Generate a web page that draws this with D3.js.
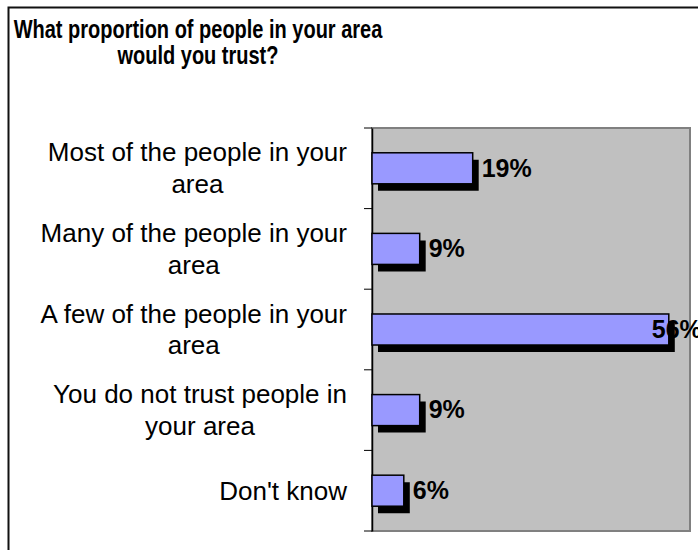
<!DOCTYPE html>
<html>
<head>
<meta charset="utf-8">
<script src="https://cdn.jsdelivr.net/npm/d3@7"></script>
<style>
  html, body { margin: 0; padding: 0; background: #fff; }
  svg { display: block; font-family: Arial, "Liberation Sans", sans-serif; }
</style>
</head>
<body>
<script>
// Survey answers, top to bottom, with the share of respondents (%)
const titleLines = ["What proportion of people in your area", "would you trust?"];
const categories = [
  ["Most of the people in your", "area"],
  ["Many of the people in your", "area"],
  ["A few of the people in your", "area"],
  ["You do not trust people in", "your area"],
  ["Don't know"]
];
const values = [19, 9, 56, 9, 6];
const xDomain = [0, 60];

const W = 698, H = 550;
const plot = { left: 372, top: 128, right: 690, bottom: 531 };
const shadowDx = 6, shadowDy = 7;

const svg = d3.select("body").append("svg")
  .attr("width", W).attr("height", H);

// outer frame (runs off the right and bottom edges)
svg.append("rect")
  .attr("x", 8.5).attr("y", 7.5)
  .attr("width", W + 20).attr("height", H + 20)
  .attr("fill", "#fff").attr("stroke", "#111").attr("stroke-width", 2);

// title, condensed horizontally
const titleG = svg.append("g").attr("transform", "scale(0.8,1)");
titleG.selectAll("text").data(titleLines).join("text")
  .attr("x", 198 / 0.8)
  .attr("y", (d, i) => 37.7 + i * 26.6)
  .attr("text-anchor", "middle")
  .attr("font-size", 25).attr("font-weight", "bold")
  .attr("fill", "#000")
  .text(d => d);

const ids = categories.map((c, i) => i);
const yBand = d3.scaleBand().domain(ids)
  .range([plot.top, plot.bottom]).paddingInner(0.615).paddingOuter(0.3075);
const yStep = d3.scaleBand().domain(ids).range([plot.top, plot.bottom]);
const x = d3.scaleLinear().domain(xDomain).range([plot.left, plot.right]);

// plot background
svg.append("rect")
  .attr("x", plot.left).attr("y", plot.top)
  .attr("width", plot.right - plot.left).attr("height", plot.bottom - plot.top)
  .attr("fill", "#c0c0c0").attr("stroke", "#808080").attr("stroke-width", 2);

// category axis: line plus ticks on the band boundaries
const axis = d3.axisLeft(yStep).tickSize(0).tickFormat("");
svg.append("g").attr("transform", `translate(${plot.left},0)`).call(axis)
  .call(g => g.select(".domain").attr("stroke", "#000").attr("stroke-width", 1.5));
const bounds = ids.map(i => yStep(i)).concat([plot.bottom]);
svg.append("g").selectAll("line").data(bounds).join("line")
  .attr("x1", plot.left - 8).attr("x2", plot.left)
  .attr("y1", d => d).attr("y2", d => d)
  .attr("stroke", "#000").attr("stroke-width", 1);

// category labels: lines centered on each other, block right-aligned
const labelRight = 347, lineH = 31.6, catFont = 26;
const measure = svg.append("text").attr("font-size", catFont).attr("visibility", "hidden");
categories.forEach((lines, i) => {
  const widths = lines.map(l => { measure.text(l); return measure.node().getComputedTextLength(); });
  const cx = labelRight - d3.max(widths) / 2;
  const cy = yStep(i) + yStep.bandwidth() / 2;
  const first = cy - (lines.length - 1) * lineH / 2 + 0.34 * catFont;
  svg.append("g").selectAll("text").data(lines).join("text")
    .attr("x", cx).attr("y", (d, j) => first + j * lineH)
    .attr("text-anchor", "middle").attr("font-size", catFont).attr("fill", "#000")
    .text(d => d);
});
measure.remove();

// bars
const bars = svg.append("g").selectAll("g").data(values).join("g");
bars.append("rect")
  .attr("x", x(0)).attr("y", (d, i) => yBand(i))
  .attr("width", d => x(d) - x(0)).attr("height", yBand.bandwidth())
  .attr("fill", "#9999ff").attr("stroke", "#000").attr("stroke-width", 1.5);

// value labels
const valFont = 25;
bars.append("text")
  .attr("font-size", valFont).attr("font-weight", "bold").attr("fill", "#000")
  .attr("y", (d, i) => yBand(i) + yBand.bandwidth() / 2 + 0.33 * valFont)
  .text(d => d + "%")
  .attr("x", function (d) {
    const w = this.getComputedTextLength();
    const pos = x(d) + 9;
    return pos + w > plot.right + 5 ? x(d) - 17 : pos;
  });

// drop shadow visible to the right of and under each bar
bars.append("path")
  .attr("fill", "#000")
  .attr("d", (d, i) => {
    const x0 = x(0), x1 = x(d);
    const y0 = yBand(i), y1 = yBand(i) + yBand.bandwidth();
    return `M${x1},${y0 + shadowDy}H${x1 + shadowDx}V${y1 + shadowDy}H${x0 + shadowDx}V${y1}H${x1}Z`;
  });
</script>
</body>
</html>
